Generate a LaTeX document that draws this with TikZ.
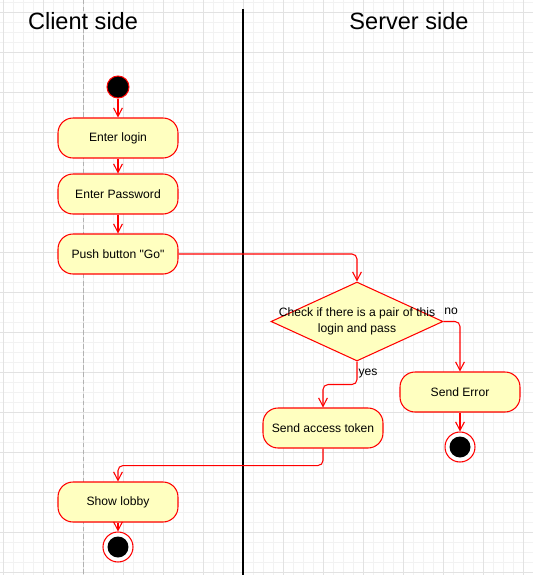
\documentclass[tikz,border=0pt]{standalone}
\usepackage{fontspec}
\setmainfont{Liberation Sans}[Ligatures=TeXOff]
\usepackage{tikz}
\usetikzlibrary{arrows.meta,shapes.geometric,positioning}

\definecolor{actfill}{HTML}{FFFFC0}
\definecolor{gridminor}{HTML}{F2F2F2}
\definecolor{gridmajor}{HTML}{E2E2E2}

\tikzset{
  activity/.style={draw=red, fill=actfill, rounded corners=0.3cm, minimum width=2.4cm, minimum height=0.8cm, line width=0.6pt, font=\fontsize{6.9}{9}\selectfont},
  decision/.style={diamond, draw=red, fill=actfill, minimum width=3.44cm, minimum height=1.58cm, inner sep=0pt, line width=0.6pt},
  startnode/.style={circle, draw=red, fill=black, minimum size=0.44cm, inner sep=0pt, line width=0.6pt},
  endnode/.style={circle, draw=red, fill=white, minimum size=0.6cm, inner sep=0pt, line width=0.6pt, path picture={\fill[black] (path picture bounding box.center) circle (0.21cm);}},
  flow/.style={draw=red, line width=0.6pt, -{Straight Barb[length=4.8pt,width=5pt]}, rounded corners=0.1cm},
  guard/.style={font=\fontsize{6.9}{9}\selectfont, inner sep=0pt},
  swimtitle/.style={font=\fontsize{13.4}{16}\selectfont, inner sep=0pt}
}

\begin{document}
\begin{tikzpicture}[x=0.02cm, y=-0.02cm]
\useasboundingbox (0,0) rectangle (533,575);
\fill[white] (0,0) rectangle (533,575);

% Grid
\foreach \gx in {3,13,...,533} \draw[gridminor, line width=0.5pt] (\gx,0) -- (\gx,575);
\foreach \gy in {2,12,...,572} \draw[gridminor, line width=0.5pt] (0,\gy) -- (533,\gy);
\foreach \gx in {3,43,...,523} \draw[gridmajor, line width=0.5pt] (\gx,0) -- (\gx,575);
\foreach \gy in {12,52,...,572} \draw[gridmajor, line width=0.5pt] (0,\gy) -- (533,\gy);

% Lanes
\draw[gray!60, dash pattern=on 2.5pt off 1.5pt, line width=0.5pt] (83,0) -- (83,575);
\draw[black, line width=0.7pt] (243,9) -- (243,575);
\node[swimtitle] (clienttitle) at (83,21) {Client side};
\node[swimtitle] (servertitle) at (409,21) {Server side};

% Client side
\node[startnode] (start) at (118,87) {};
\node[activity] (login) at (118,138) {Enter login};
\node[activity] (pass) at (118,194) {Enter Password};
\node[activity] (push) at (118,254) {Push button "Go"};
\node[activity] (lobby) at (118,502) {Show lobby};
\node[endnode] (endlobby) at (118,547) {};

% Server side
\node[decision, label={[align=center, font=\fontsize{6.9}{9}\selectfont, inner sep=0pt]center:Check if there is a pair of this\\login and pass}] (check) at (357,321.5) {};
\node[activity] (token) at (323,428) {Send access token};
\node[activity] (error) at (460,392) {Send Error};
\node[endnode] (enderror) at (460,447) {};
\node[guard] (no) at (451,311) {no};
\node[guard] (yes) at (368,373) {yes};

% Connectors
\draw[flow] (start) -- (login);
\draw[flow] (login) -- (pass);
\draw[flow] (pass) -- (push);
\draw[flow] (push.east) -| (check.north);
\draw[flow] (check.east) -| (error.north);
\draw[flow] (check.south) -- ++(0,23) -| (token.north);
\draw[flow] (error) -- (enderror);
\draw[flow] (token.south) -- ++(0,17) -| (lobby.north);
\draw[flow] (lobby) -- (endlobby);
\end{tikzpicture}
\end{document}
